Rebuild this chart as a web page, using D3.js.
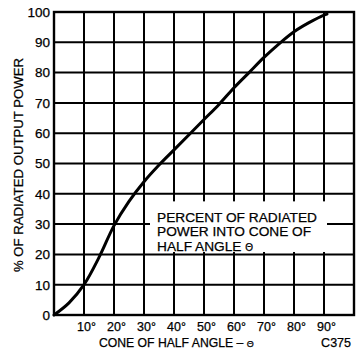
<!DOCTYPE html>
<html>
<head>
<meta charset="utf-8">
<script src="https://cdn.jsdelivr.net/npm/d3@7"></script>
<style>
html,body{margin:0;padding:0;background:#fff;}
svg{display:block;}
text{font-family:"Liberation Sans", Arial, Helvetica, sans-serif;fill:#000;stroke:#000;stroke-width:0.25px;}
</style>
</head>
<body>
<svg id="chart" width="357" height="356"></svg>
<script>
const angles = [0,5,10,15,20,25,30,35,40,45,50,55,60,65,70,75,80,85,90,91];
const percent = [0,4,10,19,29.5,37.5,44,49.5,54.5,59.5,64.5,69.5,75,80,85,89.5,93.5,96.5,99,99.3];
const xTicks = [10,20,30,40,50,60,70,80,90];
const yTicks = [0,10,20,30,40,50,60,70,80,90,100];
const xTickLabels = xTicks.map(d => d + "°");
const yLabel = "% OF RADIATED OUTPUT POWER";
const xLabel = "CONE OF HALF ANGLE – ";
const noteLines = ["PERCENT OF RADIATED", "POWER INTO CONE OF", "HALF ANGLE "];
const figId = "C375";

const svg = d3.select("#chart");
const x = d3.scaleLinear().domain([0,100]).range([54,354]);
const y = d3.scaleLinear().domain([0,100]).range([315,12]);

// grid
const grid = svg.append("g");
grid.selectAll("line.v").data(xTicks).join("line")
  .attr("x1", d => x(d)).attr("x2", d => x(d))
  .attr("y1", y(0)).attr("y2", y(100))
  .attr("stroke", "#000").attr("stroke-width", 2);
grid.selectAll("line.h").data(yTicks.filter(d => d>0 && d<100)).join("line")
  .attr("x1", x(0)).attr("x2", x(100))
  .attr("y1", d => y(d)).attr("y2", d => y(d))
  .attr("stroke", "#000").attr("stroke-width", 2);
// border
svg.append("rect")
  .attr("x", x(0)).attr("y", y(100))
  .attr("width", x(100)-x(0)).attr("height", y(0)-y(100))
  .attr("fill", "none").attr("stroke", "#000").attr("stroke-width", 2.4);

// note box (white background over grid)
svg.append("rect")
  .attr("x", x(32)).attr("y", y(37.5))
  .attr("width", x(91)-x(32)).attr("height", y(20.8)-y(37.5))
  .attr("fill", "#fff");
const note = svg.append("text").attr("x", 157).attr("y", 222)
  .style("font-size", "13.7px");
noteLines.forEach((t,i) => {
  note.append("tspan").attr("x", 157).attr("y", 222 + i*14.3).text(t);
});
note.select("tspan:last-child").append("tspan").style("font-size","10px").text("Θ");

// curve
const line = d3.line().x(d => x(d[0])).y(d => y(d[1])).curve(d3.curveCatmullRom.alpha(0.5));
svg.append("path")
  .datum(angles.map((a,i) => [a, percent[i]]))
  .attr("d", line)
  .attr("fill", "none").attr("stroke", "#000").attr("stroke-width", 3)
  .attr("stroke-linecap", "round");

// axes (labels only)
const yAxis = d3.axisLeft(y).tickValues(yTicks).tickSize(0).tickPadding(4);
const gy = svg.append("g").attr("transform", `translate(${x(0)},0)`).call(yAxis);
gy.select(".domain").remove();
gy.selectAll("text").style("font-size", "13.5px").attr("fill", "#000")
  .style("font-family", "'Liberation Sans', Arial, sans-serif");

const xAxis = d3.axisBottom(x).tickValues(xTicks).tickFormat((d,i) => xTickLabels[i]).tickSize(0).tickPadding(7);
const gx = svg.append("g").attr("transform", `translate(0,${y(0)})`).call(xAxis);
gx.select(".domain").remove();
gx.selectAll("text").style("font-size", "12.5px").attr("fill", "#000").attr("dx", "2px")
  .style("font-family", "'Liberation Sans', Arial, sans-serif");

// axis titles
svg.append("text")
  .attr("transform", "translate(23,165) rotate(-90)")
  .attr("text-anchor", "middle")
  .style("font-size", "13.2px")
  .text(yLabel);

const xt = svg.append("text").attr("x", 99).attr("y", 347)
  .style("font-size", "12.2px").text(xLabel);
xt.append("tspan").style("font-size", "9px").text("Θ");

svg.append("text").attr("x", 351).attr("y", 347)
  .attr("text-anchor", "end").style("font-size", "12.5px").text(figId);
</script>
</body>
</html>
